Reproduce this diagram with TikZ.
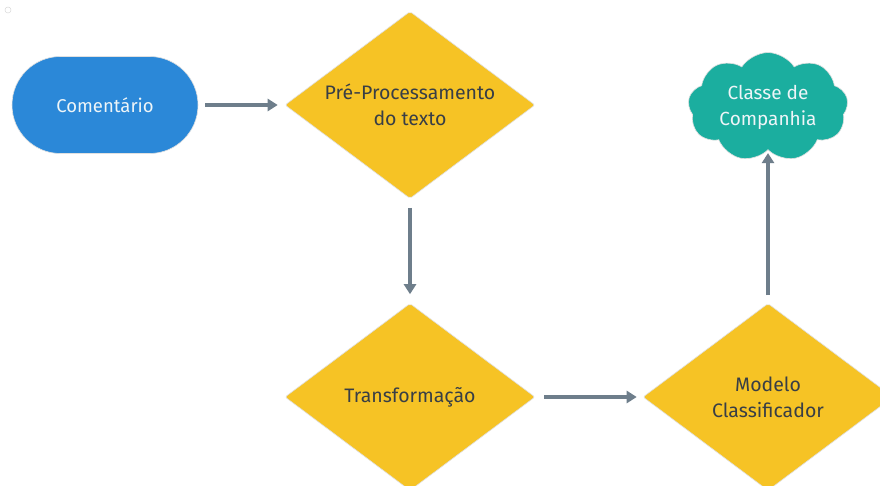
\documentclass[tikz,border=0pt]{standalone}
\usepackage{fontspec}
\setmainfont{Fira Sans}
\usetikzlibrary{shapes.geometric,shapes.symbols,shapes.misc,arrows.meta}
\definecolor{boxblue}{HTML}{2B88D8}
\definecolor{boxyellow}{HTML}{F6C325}
\definecolor{boxteal}{HTML}{1BAE9F}
\definecolor{linkgray}{HTML}{6E7E8B}
\definecolor{inktext}{HTML}{383E46}
\definecolor{lighttext}{HTML}{EEF5F8}
\tikzset{
  terminal/.style={rounded rectangle, fill=boxblue, draw=black!12, line width=0.6pt,
    minimum width=186pt, minimum height=97pt, inner sep=0pt,
    text=lighttext, font=\fontsize{18.5}{26}\selectfont},
  decision/.style={diamond, aspect=1.34, fill=boxyellow, draw=black!12, line width=0.6pt,
    minimum width=250pt, minimum height=187pt, inner sep=0pt, rounded corners=2pt,
    text=inktext, align=center, font=\fontsize{19.5}{26}\selectfont},
  result/.style={cloud, cloud puffs=9, cloud puff arc=115, aspect=1.55,
    fill=boxteal, draw=black!12, line width=0.6pt,
    minimum width=160pt, minimum height=108pt, inner sep=0pt,
    text=lighttext, align=center, font=\fontsize{19}{26}\selectfont},
  link/.style={draw=linkgray, line width=3.5pt,
    -{Triangle[length=10pt,width=12pt]}}
}
\begin{document}
\begin{tikzpicture}[x=1pt,y=-1pt]
  \useasboundingbox (0,0) rectangle (880,486);
  \clip (0,0) rectangle (880,486);
  \fill[white] (0,0) rectangle (880,486);
  % faint marker in the corner
  \draw[black!15, line width=0.5pt] (8,10) circle (3pt);

  \node[terminal] (com) at (105,105) {Comentário};
  \node[decision] (pre) at (410,105) {Pré-Processamento\\do texto};
  \node[decision] (trn) at (410,397) {Transformação};
  \node[decision] (mod) at (768,397) {Modelo\\Classificador};
  \node[result]   (cls) at (768,107) {Classe de\\Companhia};

  \draw[link, shorten <=7pt, shorten >=7pt] (com.east) -- (pre.west);
  \draw[link, shorten <=9pt, shorten >=9pt] (pre.south) -- (trn.north);
  \draw[link, shorten <=9pt, shorten >=6pt] (trn.east) -- (mod.west);
  \draw[link, shorten <=8pt, shorten >=3pt] (mod.north) -- (cls.south);
\end{tikzpicture}
\end{document}
